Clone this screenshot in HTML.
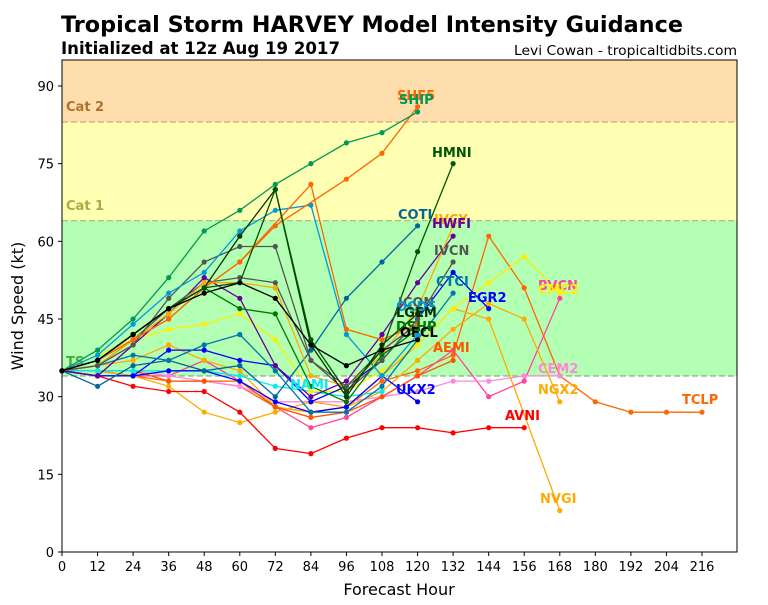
<!DOCTYPE html>
<html><head><meta charset="utf-8"><style>
html,body{margin:0;padding:0;background:#fff;}
svg text{font-family:"DejaVu Sans","Liberation Sans",sans-serif;}
.lb{font-weight:bold;font-size:13px;}
</style></head><body>
<svg id="s" width="768" height="600" viewBox="0 0 768 600" xmlns="http://www.w3.org/2000/svg">
<rect x="0" y="0" width="768" height="600" fill="#fff"/>
<rect x="62" y="60" width="675" height="62" fill="#ffdead"/>
<rect x="62" y="122" width="675" height="98.6" fill="#ffffb3"/>
<rect x="62" y="220.6" width="675" height="155.4" fill="#b3ffb3"/>
<line x1="62" x2="737" y1="122" y2="122" stroke="#b09060" stroke-dasharray="6,3" stroke-width="1.2" opacity="0.7"/>
<line x1="62" x2="737" y1="220.6" y2="220.6" stroke="#a0a060" stroke-dasharray="6,3" stroke-width="1.2" opacity="0.7"/>
<line x1="62" x2="737" y1="376" y2="376" stroke="#70a070" stroke-dasharray="6,3" stroke-width="1.2" opacity="0.8"/>
<text x="66" y="111" font-size="13" font-weight="bold" fill="#b07030">Cat 2</text>
<text x="66" y="210" font-size="13" font-weight="bold" fill="#aaaa44">Cat 1</text>
<text x="66" y="366" font-size="13" font-weight="bold" fill="#44aa44">TS</text>
<g id="series"></g>
<g class="lb">
<text x="397" y="100" fill="#ff6600">SHF5</text>
<text x="399" y="104" fill="#009955">SHIP</text>
<text x="432" y="157" fill="#005500">HMNI</text>
<text x="398" y="219" fill="#006699">COTI</text>
<text x="434" y="224" fill="#ffaa00">IVCY</text>
<text x="432" y="228" fill="#660099">HWFI</text>
<text x="434" y="255" fill="#555555">IVCN</text>
<text x="436" y="286" fill="#0077aa">CTCI</text>
<text x="468" y="302" fill="#0000ff">EGR2</text>
<text x="398" y="307" fill="#555555">ICON</text>
<text x="396" y="311" fill="#0099dd">OCD5</text>
<text x="396" y="317" fill="#003300">LGEM</text>
<text x="396" y="331" fill="#007700">DSHP</text>
<text x="400" y="337" fill="#000000">OFCL</text>
<text x="433" y="352" fill="#ff5500">AEMI</text>
<text x="290" y="389" fill="#00eeee">NAMI</text>
<text x="396" y="394" fill="#0000ff">UKX2</text>
<text x="538" y="290" fill="#ff4499">BVCN</text>
<text x="538" y="294" fill="#ffee00">CMC2</text>
<text x="538" y="373" fill="#ff88dd">CEM2</text>
<text x="538" y="394" fill="#ffaa00">NGX2</text>
<text x="505" y="420" fill="#ff0000">AVNI</text>
<text x="682" y="404" fill="#ff6600">TCLP</text>
<text x="540" y="503" fill="#ffaa00">NVGI</text>
</g>
<rect x="62" y="60" width="675" height="492" fill="none" stroke="#000" stroke-width="1"/>
<g id="ticks" font-size="13" fill="#000"></g>
<text x="61" y="32" font-size="22" font-weight="bold" textLength="622" lengthAdjust="spacingAndGlyphs">Tropical Storm HARVEY Model Intensity Guidance</text>
<text x="61" y="54" font-size="17" font-weight="bold" textLength="279" lengthAdjust="spacingAndGlyphs">Initialized at 12z Aug 19 2017</text>
<text x="514" y="55" font-size="13" textLength="223" lengthAdjust="spacingAndGlyphs">Levi Cowan - tropicaltidbits.com</text>
<text x="399" y="595" font-size="16" text-anchor="middle">Forecast Hour</text>
<text transform="translate(23,306) rotate(-90)" font-size="16" text-anchor="middle">Wind Speed (kt)</text>
</svg>
<script>
var X=function(h){return 62+h*2.963},Y=function(v){return 552-v*5.178};
var S=[
["#ff6600",[35,35,34,33,33,32,28,27,28,33,35,38,61,51,34,29,27,27,27]],
["#ff4499",[35,35,34,34,37,33,28,24,26,30,34,39,30,33,49]],
["#ff88dd",[35,35,35,34,33,32,29,29,29,30,31,33,33,34,34]],
["#ffaa00",[35,35,34,32,27,25,27,29,28,31,37,43,48,45,29]],
["#ffaa00",[35,36,37,40,37,35,28,27,28,34,40,47,45,null,8]],
["#ff0000",[35,34,32,31,31,27,20,19,22,24,24,23,24,24]],
["#ff5500",[35,35,35,33,33,33,28,26,27,30,34,37]],
["#00eeee",[35,35,35,35,35,34,32,31,30,31]],
["#ffee00",[35,38,41,43,44,46,41,31,31,35,40,47,52,57,50]],
["#0000ff",[35,34,34,35,35,33,29,27,28,34,29]],
["#0000ff",[35,34,34,39,39,37,36,29,32,37,45,54,47]],
["#006699",[35,32,36,37,35,36,30,39,49,56,63]],
["#0077aa",[35,36,38,37,40,42,35,27,27,32,41,50]],
["#660099",[35,34,40,46,53,49,36,30,33,42,52,61]],
["#555555",[35,36,41,47,52,53,52,37,31,37,45,56]],
["#ffaa00",[35,36,41,46,52,52,51,34,32,38,47,63]],
["#007700",[35,37,42,47,51,47,46,32,29,38,43]],
["#555555",[35,36,40,49,56,59,59,37,32,39,44]],
["#0099dd",[35,38,44,50,54,62,66,67,42,34,42]],
["#ff6600",[35,37,41,45,51,56,null,71,43,41,44]],
["#ff6600",[35,37,41,45,51,56,63,null,72,77,86]],
["#009955",[35,39,45,53,62,66,71,75,79,81,85]],
["#003300",[35,37,42,47,51,61,70,40,30,40,46]],
["#005500",[35,37,42,47,51,52,70,41,31,39,58,75]],
["#000000",[35,37,42,47,50,52,49,40,36,39,41]]
];
var g=document.getElementById('series'),h="";
S.forEach(function(s){var p=[],c="";s[1].forEach(function(v,i){if(v===null)return;var x=X(i*12).toFixed(1),y=Y(v).toFixed(1);p.push(x+","+y);c+='<circle cx="'+x+'" cy="'+y+'" r="2.6" fill="'+s[0]+'"/>';});
h+='<polyline points="'+p.join(" ")+'" fill="none" stroke="'+s[0]+'" stroke-width="1.3"/>'+c;});
g.innerHTML=h;
var t="";for(var i=0;i<=216;i+=12){var x=X(i);t+='<line x1="'+x+'" x2="'+x+'" y1="552" y2="556" stroke="#000"/><text x="'+x+'" y="571" text-anchor="middle">'+i+'</text>';}
for(var v=0;v<=90;v+=15){var y=Y(v);t+='<line x1="58" x2="62" y1="'+y+'" y2="'+y+'" stroke="#000"/><text x="54" y="'+(y+5)+'" text-anchor="end">'+v+'</text>';}
document.getElementById('ticks').innerHTML=t;
</script>
</body></html>
